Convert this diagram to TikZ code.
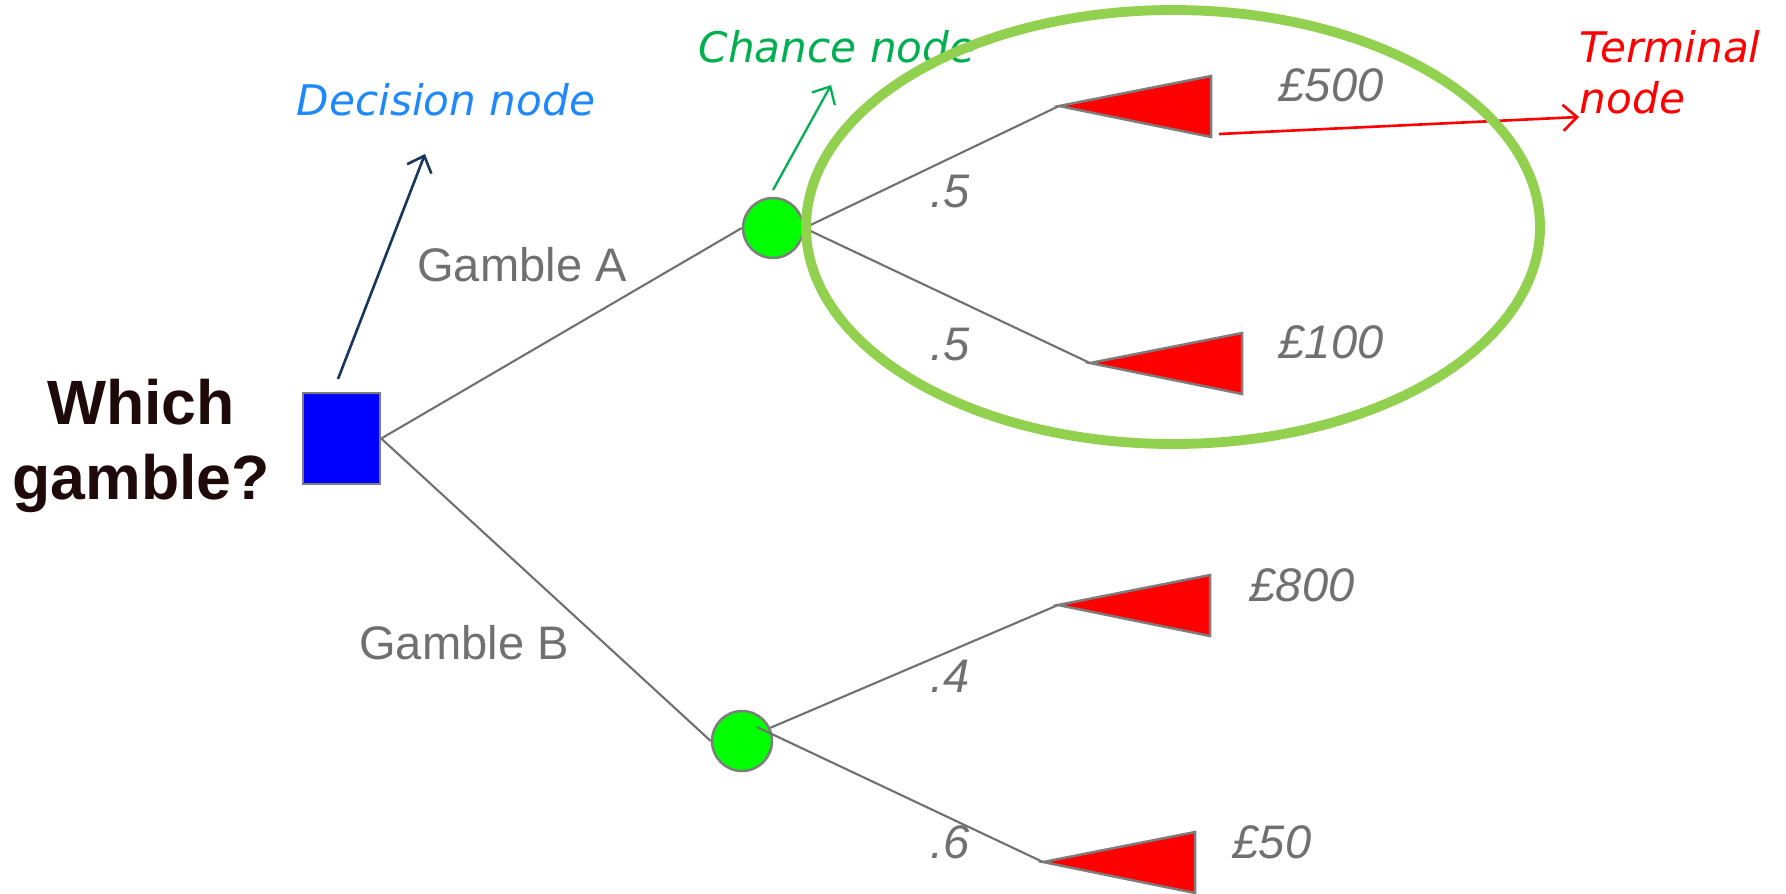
\documentclass[tikz,border=0pt]{standalone}
\usepackage{fontspec}
\setmainfont{Liberation Sans}
\newfontfamily\notefont{DejaVu Sans}
\usetikzlibrary{arrows.meta,positioning}

\definecolor{treegray}{RGB}{112,112,112}
\definecolor{edgegray}{RGB}{125,125,125}
\definecolor{decblue}{RGB}{0,0,255}
\definecolor{chgreen}{RGB}{0,255,0}
\definecolor{termred}{RGB}{255,0,0}
\definecolor{noteblue}{RGB}{30,136,255}
\definecolor{notegreen}{RGB}{0,176,80}
\definecolor{navyline}{RGB}{23,55,94}
\definecolor{ringgreen}{RGB}{146,208,80}
\definecolor{titlebrown}{RGB}{30,10,10}

\begin{document}
\begin{tikzpicture}[
  x=0.1mm, y=-0.1mm,
  >={Straight Barb[length=1.4mm,width=2.6mm]},
  branch/.style={draw=treegray,line width=0.6pt},
  decbox/.style={draw=edgegray,fill=decblue,line width=0.7pt,
    minimum width=0.77cm,minimum height=0.91cm,inner sep=0},
  chance/.style={circle,draw=edgegray,fill=chgreen,line width=0.7pt,
    minimum size=0.6cm,inner sep=0},
  term/.style={draw=edgegray,fill=termred,line width=0.7pt},
  lbl/.style={inner sep=0,text=treegray,font=\fontsize{13.4}{16}\selectfont},
  prob/.style={lbl,font=\fontsize{13.4}{16}\selectfont\itshape},
  note/.style={inner sep=0,font=\notefont\fontsize{12}{14.5}\selectfont\itshape},
  ring/.style={draw=ringgreen,line width=2.8pt}
]
\useasboundingbox (0,0) rectangle (1786,893);

% question and decision node
\node[inner sep=0,align=center,text=titlebrown,
  font=\fontsize{17.8}{21.3}\selectfont\bfseries] (ques) at (141,446)
  {Which\\gamble?};
\node[decbox] (dec) at (341.5,438.5) {};

% chance nodes
\node[chance] (chA) at (773,228) {};
\node[chance] (chB) at (742,741) {};

% terminal nodes (tips)
\coordinate (tA1) at (1059,106);
\coordinate (tA2) at (1090,363);
\coordinate (tB1) at (1058,605);
\coordinate (tB2) at (1043,862);
\foreach \t in {tA1,tA2,tB1,tB2}{
  \draw[term] (\t) -- ++(152,-30) -- ++(0,61) -- cycle;
}

% branches
\draw[branch] (dec.east) -- (chA.west);
\draw[branch] (dec.east) -- (chB.west);
\draw[branch] (chA.east) -- (tA1);
\draw[branch] (chA.east) -- (tA2);
\draw[branch] (chB.25) -- (tB1);
\draw[branch] ([shift={(15,-14)}]chB.center) -- (tB2);

\node[lbl] (gA) at (522,265) {Gamble A};
\node[lbl] (gB) at (464,643) {Gamble B};

\node[prob] (pA1) at (950,192) {.5};
\node[prob] (pA2) at (950,345) {.5};
\node[prob] (pB1) at (950,676) {.4};
\node[prob] (pB2) at (950,842) {.6};

\node[prob] (vA1) at (1331,85) {£500};
\node[prob] (vA2) at (1331,342) {£100};
\node[prob] (vB1) at (1302,585) {£800};
\node[prob] (vB2) at (1272,842) {£50};

% notes
\node[note,text=noteblue] (decnote) at (446,100) {Decision node};
\node[note,text=notegreen] (chnote) at (837,47) {Chance node};
\node[note,text=termred,align=left,anchor=north west,
  font=\notefont\fontsize{12}{14.5}\selectfont\itshape] (termnote)
  at (1579,30) {Terminal\\node};

\coordinate (decfoot) at (338,379);
\coordinate (dectip) at (425,154);
\coordinate (chfoot) at (773,190);
\coordinate (chtip) at (831,85);
\coordinate (termfoot) at (1219,134);
\coordinate (termtip) at (1579,117);
\draw[->,navyline,line width=0.75pt] (decfoot) -- (dectip);
\draw[->,notegreen,line width=0.65pt] (chfoot) -- (chtip);
\draw[->,termred,line width=0.75pt] (termfoot) -- (termtip);

% ring round gamble A
\draw[ring] (1173,227) ellipse [x radius=3.67cm,y radius=2.17cm];
\end{tikzpicture}
\end{document}
